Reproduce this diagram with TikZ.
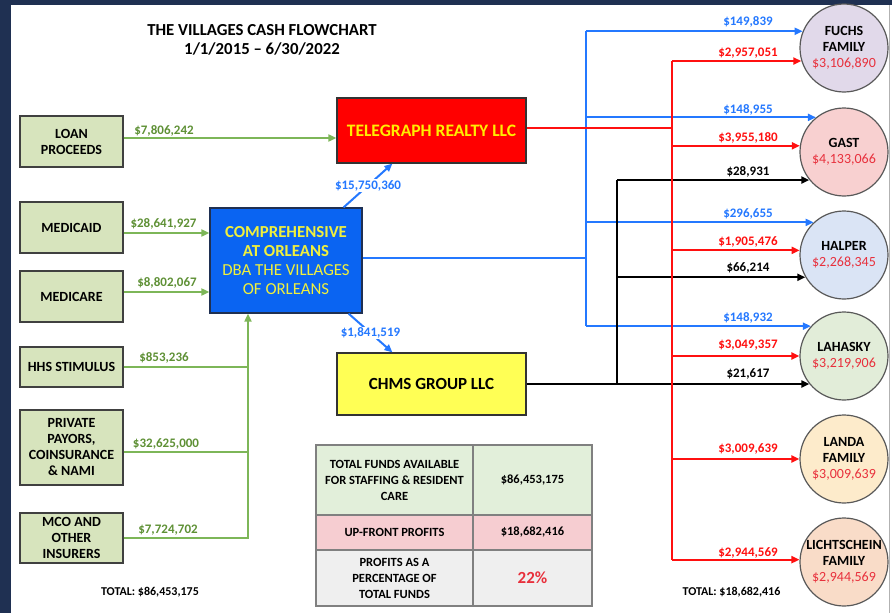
\documentclass[tikz,border=0pt]{standalone}
\usepackage{fontspec}
\setmainfont{Carlito}
\usepackage{tikz}
\usetikzlibrary{arrows.meta, positioning}

\definecolor{framenavy}{HTML}{1F3052}
\definecolor{srcgreen}{HTML}{D7E4BD}
\definecolor{linegreen}{HTML}{7DB658}
\definecolor{labgreen}{HTML}{5E9035}
\definecolor{flowblue}{HTML}{2478FF}
\definecolor{compblue}{HTML}{0A64F2}
\definecolor{textyellow}{HTML}{F0F03C}
\definecolor{teleyellow}{HTML}{FFEE00}
\definecolor{chmsyellow}{HTML}{FFFF55}
\definecolor{flowred}{HTML}{FF1010}
\definecolor{amountred}{HTML}{E8303C}
\definecolor{tgreen}{HTML}{E2EFDA}
\definecolor{tpink}{HTML}{F6CDD1}
\definecolor{tgray}{HTML}{EFEFEF}
\definecolor{fuchsfill}{HTML}{E1D9EA}
\definecolor{gastfill}{HTML}{F8D0D0}
\definecolor{halperfill}{HTML}{DAE4F5}
\definecolor{lahaskyfill}{HTML}{E2EDD9}
\definecolor{landafill}{HTML}{FDEBCB}
\definecolor{lichtfill}{HTML}{F9DCC8}

\tikzset{
    srcbox/.style={draw=black!75, fill=srcgreen, line width=1.2pt, minimum width=103pt, inner sep=0pt, align=center, font=\bfseries\fontsize{14}{16}\selectfont},
    compbox/.style={draw=framenavy, fill=compblue, line width=1.2pt, text=textyellow, minimum width=152pt, minimum height=105pt, align=center, font=\fontsize{16.8}{19}\selectfont},
    telebox/.style={draw=black!80, fill=red, line width=1.2pt, text=teleyellow, minimum width=189pt, minimum height=65pt, font=\bfseries\fontsize{17.5}{19}\selectfont},
    chmsbox/.style={draw=black!80, fill=chmsyellow, line width=1.2pt, minimum width=189pt, minimum height=62pt, font=\bfseries\fontsize{17}{19}\selectfont},
    famcircle/.style={circle, draw=black!65, line width=1.2pt, minimum size=88pt, inner sep=0pt, align=center, font=\bfseries\fontsize{14}{16}\selectfont},
    cell/.style={draw=black!50, line width=1.2pt, inner sep=0pt, align=center, font=\bfseries\fontsize{12.5}{16}\selectfont},
    flowtip/.style={-{Triangle[length=8pt,width=7pt]}},
    gline/.style={draw=linegreen, line width=1.8pt},
    bline/.style={draw=flowblue, line width=2pt},
    rline/.style={draw=flowred, line width=2pt},
    kline/.style={draw=black, line width=2pt},
    glabel/.style={text=labgreen, inner sep=1pt, font=\bfseries\fontsize{13}{15}\selectfont},
    blabel/.style={text=flowblue, inner sep=1pt, font=\bfseries\fontsize{13}{15}\selectfont},
    rlabel/.style={text=flowred, inner sep=1pt, font=\bfseries\fontsize{13}{15}\selectfont},
    klabel/.style={text=black, inner sep=1pt, font=\bfseries\fontsize{13}{15}\selectfont},
    totaltext/.style={inner sep=0pt, font=\bfseries\fontsize{12}{14}\selectfont},
}

\begin{document}
\begin{tikzpicture}[x=1pt,y=-1pt]
\useasboundingbox (0,0) rectangle (892,613);
\fill[framenavy] (0,0) rectangle (892,5);
\fill[framenavy] (0,0) rectangle (11,613);
\draw[black!30, line width=1pt] (889.5,5) -- (889.5,613);

\node[align=center, font=\bfseries\fontsize{16.8}{19}\selectfont] (title) at (262,40) {THE VILLAGES CASH FLOWCHART\\1/1/2015 – 6/30/2022};

% sources
\node[srcbox, minimum height=51pt] (loan) at (71.5,141.5) {LOAN\\PROCEEDS};
\node[srcbox, minimum height=51pt] (medicaid) at (71.5,227.5) {MEDICAID};
\node[srcbox, minimum height=51pt] (medicare) at (71.5,296.5) {MEDICARE};
\node[srcbox, minimum height=40pt] (hhs) at (71.5,367) {HHS STIMULUS};
\node[srcbox, minimum height=75pt] (private) at (71.5,447.5) {PRIVATE\\PAYORS,\\COINSURANCE\\\& NAMI};
\node[srcbox, minimum height=50pt] (mco) at (71.5,538) {MCO AND\\OTHER\\INSURERS};

\node[compbox] (comp) at (286,260.5) {\textbf{COMPREHENSIVE}\\\textbf{AT ORLEANS}\\DBA THE VILLAGES\\OF ORLEANS};
\node[telebox] (tele) at (431.5,130.5) {TELEGRAPH REALTY LLC};
\node[chmsbox] (chms) at (431.5,384) {CHMS GROUP LLC};

% families
\node[famcircle, fill=fuchsfill] (fuchs) at (844,48) {FUCHS\\FAMILY\\\textcolor{amountred}{\mdseries\$3,106,890}};
\node[famcircle, fill=gastfill] (gast) at (844,152) {GAST\\\textcolor{amountred}{\mdseries\$4,133,066}};
\node[famcircle, fill=halperfill] (halper) at (844,255) {HALPER\\\textcolor{amountred}{\mdseries\$2,268,345}};
\node[famcircle, fill=lahaskyfill] (lahasky) at (844,356) {LAHASKY\\\textcolor{amountred}{\mdseries\$3,219,906}};
\node[famcircle, fill=landafill] (landa) at (844,459) {LANDA\\FAMILY\\\textcolor{amountred}{\mdseries\$3,009,639}};
\node[famcircle, fill=lichtfill] (licht) at (844,562) {LICHTSCHEIN\\FAMILY\\\textcolor{amountred}{\mdseries\$2,944,569}};

% money in
\draw[gline, flowtip] ([yshift=3.5pt]loan.east) -- ([yshift=3.5pt]loan.east -| tele.west);
\draw[gline, flowtip] ([yshift=-5.5pt]medicaid.east) -- ([yshift=-5.5pt]medicaid.east -| comp.west);
\draw[gline, flowtip] ([yshift=4.5pt]medicare.east) -- ([yshift=4.5pt]medicare.east -| comp.west);
\coordinate (gbus) at (248,538);
\draw[gline] (hhs.east) -- (hhs.east -| gbus);
\draw[gline] ([yshift=-4.5pt]private.east) -- ([yshift=-4.5pt]private.east -| gbus);
\draw[gline, flowtip] (mco.east) -| (gbus |- comp.south);

\node[glabel] (vloan) at (164,131) {\$7,806,242};
\node[glabel] (vmedicaid) at (163.5,224) {\$28,641,927};
\node[glabel] (vmedicare) at (167,283) {\$8,802,067};
\node[glabel] (vhhs) at (164,358) {\$853,236};
\node[glabel] (vprivate) at (166,444) {\$32,625,000};
\node[glabel] (vmco) at (168,530) {\$7,724,702};

\draw[bline, flowtip] ([xshift=-19pt]comp.north east) -- node[blabel, fill=white] (vtele) {\$15,750,360} ([xshift=56pt]tele.south west);
\draw[bline, flowtip] ([xshift=-14pt]comp.south east) -- node[blabel, fill=white] (vchms) {\$1,841,519} ([xshift=56pt]chms.north west);

% money out
\coordinate (bbus) at (586,0);
\coordinate (kbus) at (617,0);
\coordinate (rbus) at (672,0);

\draw[bline] ([yshift=3pt]comp.east) -- ([yshift=3pt]comp.east -| bbus);
\draw[bline] (bbus |- fuchs.158.7) -- (bbus |- lahasky.138.8);
\draw[bline, flowtip] (bbus |- fuchs.158.7) -- (fuchs.158.7);
\draw[bline, flowtip] (bbus |- gast.129.4) -- (gast.129.4);
\draw[bline, flowtip] (bbus |- halper.133.3) -- (halper.133.3);
\draw[bline, flowtip] (bbus |- lahasky.138.8) -- (lahasky.138.8);

\draw[kline, flowtip] (chms.east) -- (chms.east -| lahasky.219.5);
\draw[kline] (kbus |- chms.east) -- (kbus |- gast.219.5);
\draw[kline, flowtip] (kbus |- gast.219.5) -- (gast.219.5);
\draw[kline, flowtip] (kbus |- halper.210) -- (halper.210);

\draw[rline] ([yshift=2.5pt]tele.east) -- ([yshift=2.5pt]tele.east -| rbus);
\draw[rline] (rbus |- fuchs.197.2) -- (rbus |- licht.177.4);
\draw[rline, flowtip] (rbus |- fuchs.197.2) -- (fuchs.197.2);
\draw[rline, flowtip] (rbus |- gast.172.2) -- (gast.172.2);
\draw[rline, flowtip] (rbus |- halper.174.8) -- (halper.174.8);
\draw[rline, flowtip] (rbus |- lahasky.180) -- (lahasky.180);
\draw[rline, flowtip] (rbus |- landa.180) -- (landa.180);
\draw[rline, flowtip] (rbus |- licht.177.4) -- (licht.177.4);

\node[blabel] (vfuchsb) at (748,22) {\$149,839};
\node[rlabel] (vfuchsr) at (748,53) {\$2,957,051};
\node[blabel] (vgastb) at (748,110) {\$148,955};
\node[rlabel] (vgastr) at (748,138) {\$3,955,180};
\node[klabel] (vgastk) at (748,172) {\$28,931};
\node[blabel] (vhalperb) at (748,214) {\$296,655};
\node[rlabel] (vhalperr) at (748,242) {\$1,905,476};
\node[klabel] (vhalperk) at (748,268) {\$66,214};
\node[blabel] (vlahaskyb) at (748,318) {\$148,932};
\node[rlabel] (vlahaskyr) at (748,345) {\$3,049,357};
\node[klabel] (vlahaskyk) at (748,374) {\$21,617};
\node[rlabel] (vlanda) at (748,449) {\$3,009,639};
\node[rlabel] (vlicht) at (748,553) {\$2,944,569};

% table
\node[cell, fill=tgreen, minimum width=157pt, minimum height=70pt] (tfunds) at (394.5,480) {TOTAL FUNDS AVAILABLE\\FOR STAFFING \& RESIDENT\\CARE};
\node[cell, fill=tgreen, minimum width=119pt, minimum height=70pt] (vfunds) at (532.5,480) {\$86,453,175};
\node[cell, fill=tpink, minimum width=157pt, minimum height=35pt] (tprofit) at (394.5,532.5) {UP-FRONT PROFITS};
\node[cell, fill=tpink, minimum width=119pt, minimum height=35pt] (vprofit) at (532.5,532.5) {\$18,682,416};
\node[cell, fill=tgray, minimum width=157pt, minimum height=56pt] (tpct) at (394.5,578) {PROFITS AS A\\PERCENTAGE OF\\TOTAL FUNDS};
\node[cell, fill=tgray, minimum width=119pt, minimum height=56pt, text=amountred, font=\bfseries\fontsize{17}{20}\selectfont] (vpct) at (532.5,578) {22\%};

\node[totaltext] (tleft) at (150,592) {TOTAL: \$86,453,175};
\node[totaltext] (tright) at (731.5,592) {TOTAL: \$18,682,416};
\end{tikzpicture}
\end{document}
